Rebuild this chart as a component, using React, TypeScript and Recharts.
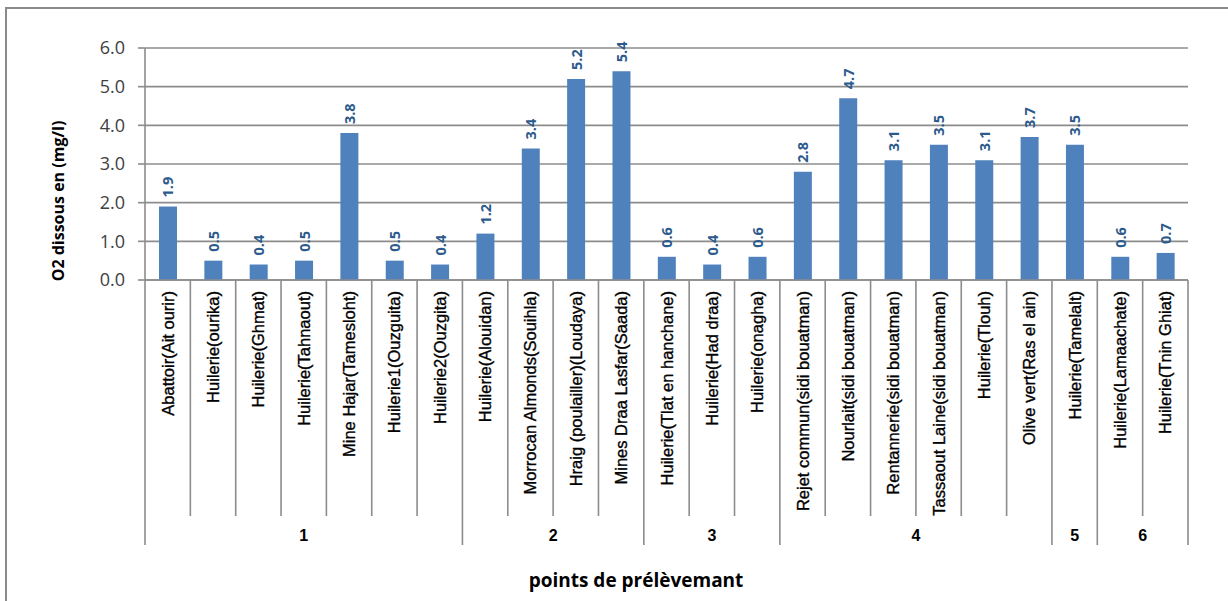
import React from "react";
import {
  BarChart,
  Bar,
  XAxis,
  YAxis,
  CartesianGrid,
  LabelList,
  Label,
} from "recharts";

// Sampling points (x categories)
const categories = [
  "Abattoir(Ait ourir)",
  "Huilerie(ourika)",
  "Huilerie(Ghmat)",
  "Huilerie(Tahnaout)",
  "Mine Hajar(Tamesloht)",
  "Huilerie1(Ouzguita)",
  "Huilerie2(Ouzgita)",
  "Huilerie(Alouidan)",
  "Morrocan Almonds(Souihla)",
  "Hraig (poulailler)(Loudaya)",
  "Mines Draa Lasfar(Saada)",
  "Huilerie(Tlat en hanchane)",
  "Huilerie(Had draa)",
  "Huilerie(onagha)",
  "Rejet commun(sidi bouatman)",
  "Nourlait(sidi bouatman)",
  "Rentannerie(sidi bouatman)",
  "Tassaout Laine(sidi bouatman)",
  "Huilerie(Tlouh)",
  "Olive vert(Ras el ain)",
  "Huilerie(Tamelalt)",
  "Huilerie(Lamaachate)",
  "Huilerie(Tnin Ghiat)",
];

// Dissolved oxygen (mg/l)
const o2Values = [
  1.9, 0.5, 0.4, 0.5, 3.8, 0.5, 0.4, 1.2, 3.4, 5.2, 5.4, 0.6, 0.4, 0.6, 2.8,
  4.7, 3.1, 3.5, 3.1, 3.7, 3.5, 0.6, 0.7,
];

// Zone groups along the axis
const groupNames = ["1", "2", "3", "4", "5", "6"];
const groupSizes = [7, 4, 3, 6, 1, 2];

const yTicks = [0, 1, 2, 3, 4, 5, 6];

const data = categories.map((name, i) => ({
  name,
  o2: o2Values[i],
  pos: i + 0.5,
}));

// Group boundaries and centres on a 0..N index scale
const groupBounds: number[] = [0];
groupSizes.forEach((s) => groupBounds.push(groupBounds[groupBounds.length - 1] + s));
const groupCenters = groupSizes.map((s, i) => groupBounds[i] + s / 2);
const groupTicks = Array.from(
  new Set([
    ...Array.from({ length: categories.length + 1 }, (_, i) => i),
    ...groupCenters,
  ])
).sort((a, b) => a - b);

const GRID = "#8c8c8c";
const CAT_AXIS_H = 236;
const GRP_AXIS_H = 29;

const CategoryTick = (props: any) => {
  const { x, y, payload } = props;
  const ty = y + 11;
  return (
    <text
      x={x}
      y={ty}
      transform={`rotate(-90 ${x} ${ty})`}
      textAnchor="end"
      dominantBaseline="central"
      fontFamily="'Liberation Sans', Arial, sans-serif"
      fontSize={16.5}
      fill="#000"
      stroke="#000"
      strokeWidth={0.35}
    >
      {payload.value}
    </text>
  );
};

const GroupTick = (props: any) => {
  const { x, y, payload } = props;
  const v = payload.value;
  const items: React.ReactNode[] = [];
  if (Number.isInteger(v)) {
    const isBound = groupBounds.includes(v);
    items.push(
      <line
        key="l"
        x1={x}
        x2={x}
        y1={y - CAT_AXIS_H}
        y2={isBound ? y + GRP_AXIS_H : y}
        stroke={GRID}
        strokeWidth={1.6}
      />
    );
  }
  const gi = groupCenters.indexOf(v);
  if (gi >= 0) {
    items.push(
      <text
        key="t"
        x={x}
        y={y + 19}
        textAnchor="middle"
        dominantBaseline="central"
        fontFamily="'Liberation Sans', Arial, sans-serif"
        fontWeight="bold"
        fontSize={16}
        fill="#000"
      >
        {groupNames[gi]}
      </text>
    );
  }
  return <g>{items}</g>;
};

const ValueLabel = (props: any) => {
  const { x, y, width, value } = props;
  const cx = x + width / 2;
  const cy = y - 9;
  return (
    <text
      x={cx}
      y={cy}
      transform={`rotate(-90 ${cx} ${cy})`}
      textAnchor="start"
      dominantBaseline="central"
      fontFamily="'Open Sans', sans-serif"
      fontWeight="bold"
      fontSize={14.5}
      fill="#2C5A8C"
    >
      {Number(value).toFixed(1)}
    </text>
  );
};

export default function App() {
  return (
    <div
      style={{
        position: "absolute",
        left: 0,
        top: 0,
        width: 1228,
        height: 601,
        background: "#fff",
        overflow: "hidden",
      }}
    >
      <div
        style={{
          position: "absolute",
          left: 5,
          top: 7,
          width: 1240,
          height: 620,
          borderLeft: "2px solid #8a8a8a",
          borderTop: "2px solid #8a8a8a",
        }}
      />
      <div style={{ position: "absolute", left: 0, top: 0 }}>
        <BarChart
          width={1228}
          height={601}
          data={data}
          margin={{ top: 48, right: 40, bottom: 56, left: 0 }}
          barCategoryGap={0}
        >
          <CartesianGrid
            xAxisId="cat"
            vertical={false}
            stroke={GRID}
            strokeWidth={1.6}
          />
          <XAxis
            xAxisId="cat"
            dataKey="name"
            type="category"
            interval={0}
            height={CAT_AXIS_H}
            tickSize={0}
            tickMargin={0}
            tickLine={false}
            axisLine={{ stroke: GRID, strokeWidth: 1.6 }}
            tick={<CategoryTick />}
          />
          <XAxis
            xAxisId="grp"
            dataKey="pos"
            type="number"
            domain={[0, categories.length]}
            ticks={groupTicks}
            interval={0}
            height={GRP_AXIS_H}
            tickSize={0}
            tickMargin={0}
            tickLine={false}
            axisLine={false}
            tick={<GroupTick />}
          >
            <Label
              content={() => (
                <text
                  x={636}
                  y={580}
                  textAnchor="middle"
                  dominantBaseline="central"
                  fontFamily="'Open Sans', sans-serif"
                  fontWeight="bold"
                  fontSize={19}
                  fill="#000"
                >
                  points de prélèvemant
                </text>
              )}
            />
          </XAxis>
          <YAxis
            domain={[0, 6]}
            ticks={yTicks}
            interval={0}
            width={145}
            tickSize={7}
            tickMargin={13}
            tickFormatter={(v: number) => v.toFixed(1)}
            tick={{
              fontFamily: "'Open Sans', sans-serif",
              fontSize: 18,
              fill: "#404040",
            }}
            axisLine={{ stroke: GRID, strokeWidth: 1.6 }}
            tickLine={{ stroke: GRID, strokeWidth: 1.6 }}
          >
            <Label
              content={() => (
                <text
                  x={58}
                  y={201}
                  transform="rotate(-90 58 201)"
                  textAnchor="middle"
                  dominantBaseline="central"
                  fontFamily="'Open Sans', sans-serif"
                  fontWeight="bold"
                  fontSize={16}
                  fill="#000"
                >
                  O2 dissous en (mg/l)
                </text>
              )}
            />
          </YAxis>
          <Bar
            xAxisId="cat"
            dataKey="o2"
            fill="#4F81BD"
            barSize={18}
            isAnimationActive={false}
          >
            <LabelList dataKey="o2" content={<ValueLabel />} />
          </Bar>
        </BarChart>
      </div>
    </div>
  );
}
